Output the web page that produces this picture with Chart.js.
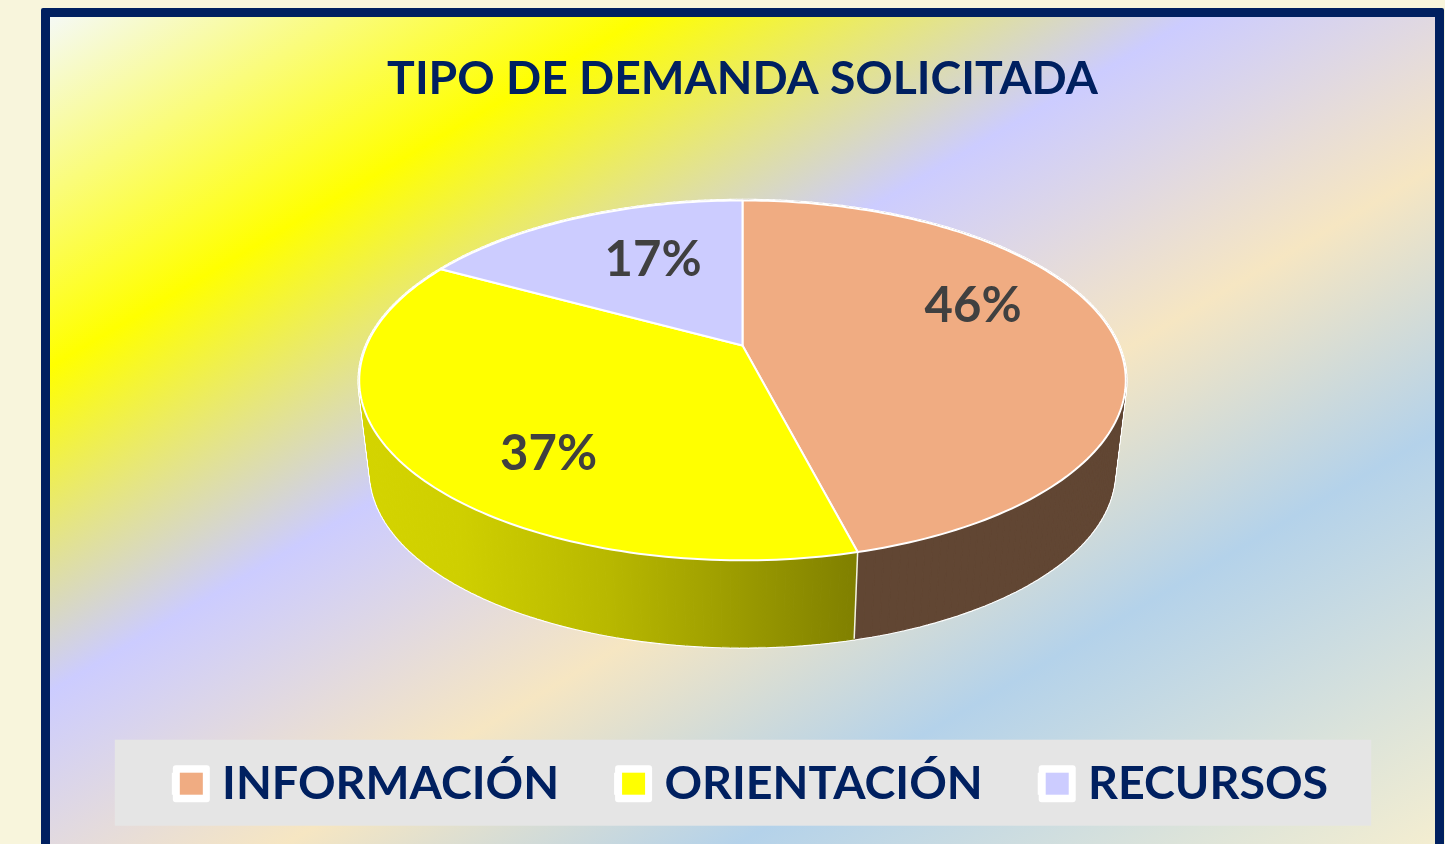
<!DOCTYPE html>
<html lang="es">
<head>
<meta charset="utf-8">
<title>Tipo de demanda solicitada</title>
<script src="https://cdn.jsdelivr.net/npm/chart.js@4"></script>
<style>
  html, body { margin: 0; height: 100%; overflow: hidden; background: #f8f5dc; }
  #panel {
    position: absolute; left: 41px; top: 8px; width: 1385px; height: 849px;
    border: 9px solid #002060; border-radius: 2px;
    background: linear-gradient(149.5deg, #f5f9f5 0%, #ffff00 21%, #ccccff 40.5%, #f6e6c2 58%, #b4d2ea 74%, #f7efcf 100%);
  }
  canvas { display: block; }
</style>
</head>
<body>
<div id="panel"><canvas id="myChart" width="1385" height="829"></canvas></div>
<script>
const titleText = "TIPO DE DEMANDA SOLICITADA";
const categories = ["INFORMACIÓN", "ORIENTACIÓN", "RECURSOS"];
const values = [46, 37, 17];
const sliceColors = ["#f0ac82", "#ffff00", "#ccccff"];

const navy = "#002060";
const fontName = "Lato, 'Noto Sans', sans-serif";

// perspective of the tilted pie, worked out from the rim of the top face
const tilt = 0.194, squash = 0.4606;
const shiftY = -70, shiftLegend = 8;
const wallDrop = 93, wallScale = 0.97;
const labelNudge = [[10, -26], [-2, 40], [15, -4]];

function project(arc, angle, scale, drop, radial) {
  const r = arc.outerRadius * scale * radial;
  const u = Math.cos(angle), v = Math.sin(angle) * radial;
  const f = 1 / (1 - tilt * v);
  return {
    x: arc.x + r * u * f,
    y: arc.y + shiftY + drop + arc.outerRadius * scale * squash * v * f
  };
}

function rim(arc, from, to, scale, drop) {
  const pts = [];
  const steps = Math.max(2, Math.ceil(Math.abs(to - from) / 0.02));
  for (let i = 0; i <= steps; i++) {
    pts.push(project(arc, from + (to - from) * i / steps, scale, drop, 1));
  }
  return pts;
}

function tracePath(ctx, pts) {
  ctx.beginPath();
  pts.forEach((p, i) => i ? ctx.lineTo(p.x, p.y) : ctx.moveTo(p.x, p.y));
  ctx.closePath();
}

function wallFill(ctx, index, arc) {
  if (index === 0) return "#614633";
  if (index === 2) return "#8e8eb3";
  const g = ctx.createLinearGradient(arc.x - 380, 0, arc.x + 112, 0);
  g.addColorStop(0, "#d4d400");
  g.addColorStop(0.2, "#cfcf00");
  g.addColorStop(0.5, "#b8b800");
  g.addColorStop(0.72, "#a0a000");
  g.addColorStop(1, "#808000");
  return g;
}

// one quad per rim step, so the side silhouette stays tangent to both rims
function wallQuads(arc) {
  const top = rim(arc, arc.startAngle, arc.endAngle, 1, 0);
  const low = rim(arc, arc.startAngle, arc.endAngle, wallScale, wallDrop);
  const quads = [];
  for (let i = 0; i < top.length - 1; i++) {
    quads.push([top[i], top[i + 1], low[i + 1], low[i]]);
  }
  return quads;
}

const pie3d = {
  id: "pie3d",
  afterLayout(chart) {
    chart.legend.left += shiftLegend;
    chart.legend.right += shiftLegend;
  },
  beforeDraw(chart) {
    const hits = chart.legend.legendHitBoxes;
    const ctx = chart.ctx;
    const first = hits[0], last = hits[hits.length - 1];
    ctx.save();
    ctx.fillStyle = "#e5e5e5";
    ctx.fillRect(first.left - 58, first.top + first.height / 2 - 44,
      last.left + last.width - first.left + 101, 86);
    ctx.restore();
  },
  beforeDatasetDraw(chart) {
    const ctx = chart.ctx;
    const arcs = chart.getDatasetMeta(0).data;
    const total = values.reduce((a, b) => a + b, 0);

    ctx.save();
    ctx.lineJoin = "round";
    // white outline under the walls
    arcs.forEach(a => {
      wallQuads(a).forEach(q => {
        tracePath(ctx, q);
        ctx.strokeStyle = "rgba(255,255,255,0.9)";
        ctx.lineWidth = 3.5;
        ctx.stroke();
      });
    });
    // side walls, the top face hides their back half
    arcs.forEach((a, i) => {
      const fill = wallFill(ctx, i, a);
      wallQuads(a).forEach(q => {
        tracePath(ctx, q);
        ctx.fillStyle = fill;
        ctx.strokeStyle = fill;
        ctx.lineWidth = 1.2;
        ctx.fill();
        ctx.stroke();
      });
    });
    // seams between the walls
    arcs.forEach(a => {
      const t = project(a, a.startAngle, 1, 0, 1);
      const l = project(a, a.startAngle, wallScale, wallDrop, 1);
      ctx.beginPath();
      ctx.moveTo(t.x, t.y);
      ctx.lineTo(l.x, l.y);
      ctx.strokeStyle = "rgba(255,255,255,0.9)";
      ctx.lineWidth = 1.5;
      ctx.stroke();
    });

    // top face
    arcs.forEach((a, i) => {
      const centre = project(a, 0, 1, 0, 0);
      tracePath(ctx, [centre].concat(rim(a, a.startAngle, a.endAngle, 1, 0)));
      ctx.fillStyle = sliceColors[i];
      ctx.fill();
      ctx.strokeStyle = "#ffffff";
      ctx.lineWidth = 2;
      ctx.stroke();
    });

    // percentage labels
    ctx.font = "bold 49px " + fontName;
    ctx.fillStyle = "#404040";
    ctx.textAlign = "center";
    ctx.textBaseline = "middle";
    arcs.forEach((a, i) => {
      const p = project(a, (a.startAngle + a.endAngle) / 2, 1, 0, 0.6);
      ctx.fillText(Math.round(values[i] / total * 100) + "%", p.x + labelNudge[i][0], p.y + labelNudge[i][1]);
    });
    ctx.restore();
    return false;
  },
  afterDraw(chart) {
    // legend swatches: white frame with the colour inside
    const ctx = chart.ctx;
    ctx.save();
    chart.legend.legendHitBoxes.forEach((h, i) => {
      const midY = h.top + h.height / 2;
      const x = h.left;
      ctx.fillStyle = "#ffffff";
      ctx.beginPath();
      ctx.roundRect(x, midY - 18.5, 37, 37, 3);
      ctx.fill();
      ctx.fillStyle = sliceColors[i];
      ctx.fillRect(x + 7, midY - 11, 23, 22);
    });
    ctx.restore();
  }
};

new Chart(document.getElementById("myChart"), {
  type: "pie",
  data: {
    labels: categories,
    datasets: [{
      data: values,
      backgroundColor: sliceColors,
      radius: 376
    }]
  },
  options: {
    responsive: false,
    animation: false,
    layout: { padding: { bottom: 29 } },
    plugins: {
      tooltip: { enabled: false },
      title: {
        display: true,
        text: titleText,
        color: navy,
        font: { family: fontName, size: 46.3, weight: "bold" },
        padding: { top: 34, bottom: 20 }
      },
      legend: {
        position: "bottom",
        labels: {
          color: navy,
          font: { family: fontName, size: 46.6, weight: "bold" },
          boxWidth: 26,
          boxHeight: 20,
          padding: 56
        }
      }
    }
  },
  plugins: [pie3d]
});
</script>
</body>
</html>
